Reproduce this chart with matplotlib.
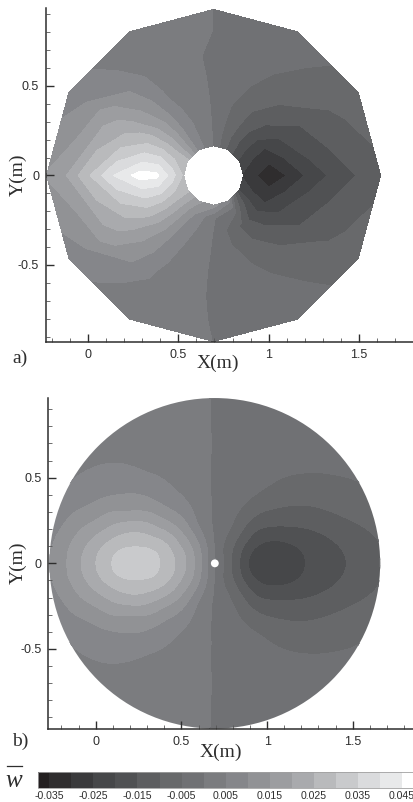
import numpy as np
import matplotlib
matplotlib.use("Agg")
import matplotlib.pyplot as plt
from matplotlib.colors import BoundaryNorm, ListedColormap
from matplotlib.cm import ScalarMappable
from matplotlib.lines import Line2D
from matplotlib.patches import Circle
from matplotlib.ticker import MultipleLocator, FixedLocator
from matplotlib.tri import Triangulation, UniformTriRefiner

# contour levels and grey colours
LEVELS = [-0.0375, -0.035, -0.03, -0.025, -0.02, -0.015, -0.01, -0.005, 0.0,
          0.005, 0.01, 0.015, 0.02, 0.025, 0.03, 0.035, 0.04, 0.045, 0.0475]
GREYS = ["#231f20", "#2f2d2e", "#3a3a3c", "#464749", "#505153", "#5d5e60",
         "#68696b", "#707174", "#7b7c7f", "#85868a", "#919295", "#9c9da0",
         "#a9aaad", "#b9babc", "#c9cacc", "#dadbdd", "#e8e9ea", "#ffffff"]
BAR_TICKS = [-0.035, -0.025, -0.015, -0.005, 0.005, 0.015, 0.025, 0.035, 0.045]
BAR_LABELS = ["-0.035", "-0.025", "-0.015", "-0.005", "0.005", "0.015", "0.025", "0.035", "0.045"]

# panel a: coarse polar mesh around the hub
A_CENTER = 0.695
A_RADII = [0.167, 0.241, 0.324, 0.417, 0.556, 0.685, 0.815, 0.926]
A_ANGLES = [0, 30, 60, 90, 120, 150, 180, 210, 240, 270, 300, 330, 360]
A_W0 = [-0.026, -0.030, -0.034, -0.0295, -0.0225, -0.0182, -0.0142, -0.0115]
A_W30 = [-0.021, -0.0235, -0.0245, -0.020, -0.015, -0.0108, -0.0088, -0.0075]
A_W60 = [-0.012, -0.0125, -0.011, -0.0098, -0.0065, -0.0045, -0.003, -0.002]
A_W90 = [-0.0005, -0.0006, -0.0007, -0.0007, -0.0007, -0.0006, -0.00002, -0.00002]
A_W120 = [0.008, 0.0075, 0.0072, 0.006, 0.0042, 0.0025, 0.0015, 0.001]
A_W150 = [0.026, 0.027, 0.028, 0.027, 0.022, 0.0175, 0.010, 0.0075]
A_W180 = [0.029, 0.0385, 0.047, 0.047, 0.040, 0.030, 0.020, 0.0155]
A_W210 = [0.026, 0.027, 0.028, 0.027, 0.022, 0.0175, 0.010, 0.0075]
A_W240 = [0.016, 0.0115, 0.0085, 0.0068, 0.0055, 0.004, 0.0022, 0.001]
A_W270 = [0.012, 0.0004, -0.0003, -0.0006, -0.0008, -0.0006, -0.0002, -0.00002]
A_W300 = [0.006, -0.005, -0.0115, -0.0097, -0.0062, -0.0042, -0.0028, -0.002]
A_W330 = [-0.021, -0.0235, -0.0245, -0.020, -0.015, -0.0108, -0.0088, -0.0075]

# panel b: fine grid, upper half only (the field mirrors about y = 0)
B_CENTER = 0.695
B_RADIUS = 0.965
B_HOLE = 0.023
B_X = [-0.3, -0.2, -0.1, 0.0, 0.1, 0.2, 0.3, 0.4, 0.5, 0.6, 0.7,
       0.8, 0.9, 1.0, 1.1, 1.2, 1.3, 1.4, 1.5, 1.6, 1.7]
B_Y = [0.0, 0.1, 0.2, 0.3, 0.4, 0.5, 0.6, 0.7, 0.8, 0.9, 1.0]
B_Y0 = [.009, .0133, .019, .0249, .0303, .0338, .0331, .0286, .0222, .012, -.0005,
        -.0108, -.0207, -.0238, -.024, -.0208, -.0183, -.0164, -.0141, -.0115, -.009]
B_Y1 = [.0079, .0125, .0176, .0228, .0274, .0296, .0292, .0262, .0195, .0105, -.001,
        -.0097, -.0179, -.0215, -.0214, -.0194, -.0176, -.0155, -.0134, -.0113, -.0093]
B_Y2 = [.0067, .0102, .0143, .0178, .0214, .0234, .0226, .0192, .0139, .0058, -.001,
        -.0061, -.0126, -.0158, -.016, -.0155, -.0143, -.0127, -.0112, -.0097, -.0081]
B_Y3 = [.0051, .0077, .0104, .0126, .015, .0153, .015, .012, .0085, .0031, -.0008,
        -.0038, -.0079, -.0105, -.0113, -.0113, -.0108, -.0098, -.0087, -.0076, -.0065]
B_Y4 = [.0035, .0055, .0071, .0087, .0098, .0102, .0094, .0072, .0049, .0019, -.00057,
        -.0024, -.0044, -.0063, -.0076, -.0083, -.0079, -.0072, -.0063, -.0056, -.0051]
B_Y5 = [.0022, .0038, .0052, .0064, .0071, .0067, .0058, .0047, .0032, .0013, -.00043,
        -.0016, -.0028, -.0041, -.0051, -.0056, -.0056, -.0053, -.0049, -.0044, -.004]
B_Y6 = [.0014, .0024, .0034, .0042, .0046, .0044, .0038, .0031, .0021, .0009, -.00033,
        -.0012, -.002, -.0027, -.0033, -.0037, -.0038, -.0037, -.0035, -.0032, -.0029]
B_Y7 = [.0009, .0015, .0021, .0026, .0029, .0029, .0026, .0021, .0014, .0006, -.0002,
        -.0009, -.0014, -.0019, -.0023, -.0025, -.0026, -.0026, -.0025, -.0023, -.0021]
B_Y8 = [.0006, .001, .0014, .0018, .002, .002, .0018, .0015, .001, .0004, -.00015,
        -.0006, -.001, -.0013, -.0016, -.0018, -.0019, -.0019, -.0018, -.0017, -.0016]
B_Y9 = [.0004, .0006, .0009, .0011, .0013, .0013, .0012, .001, .0007, .0003, -.00012,
        -.0004, -.0007, -.0009, -.0011, -.0012, -.0013, -.0013, -.0012, -.0011, -.001]
B_Y10 = [.0002, .0004, .0005, .0006, .0007, .0007, .0007, .0006, .0004, .0002, -.0001,
         -.0002, -.0004, -.0005, -.0006, -.0007, -.0007, -.0007, -.0007, -.0006, -.0006]

W, H = 414, 802
INK = "#2e2e2e"
SANS = "Liberation Sans"
SERIF = "Liberation Serif"


def axes_px(fig, left, right, top, bottom):
    """Axes from pixel edges measured on the reference (y counted from the top)."""
    return fig.add_axes([left / W, 1 - bottom / H, (right - left) / W, (bottom - top) / H])


def label_px(fig, x, y, s, **kw):
    kw.setdefault("family", SERIF)
    kw.setdefault("size", 14)
    kw.setdefault("color", INK)
    return fig.text(x / W, 1 - y / H, s, ha="center", va="center", **kw)


def style_axes(ax, xlim, ylim):
    ax.set_xlim(*xlim)
    ax.set_ylim(*ylim)
    for side in ("top", "right"):
        ax.spines[side].set_visible(False)
    for side in ("left", "bottom"):
        ax.spines[side].set_linewidth(1.1)
        ax.spines[side].set_color(INK)
    ax.xaxis.set_major_locator(FixedLocator([0, 0.5, 1, 1.5]))
    ax.yaxis.set_major_locator(FixedLocator([-0.5, 0, 0.5]))
    ax.xaxis.set_minor_locator(MultipleLocator(0.1))
    ax.yaxis.set_minor_locator(MultipleLocator(0.1))
    ax.set_xticklabels(["0", "0.5", "1", "1.5"])
    ax.set_yticklabels(["-0.5", "0", "0.5"])
    ax.tick_params(which="major", direction="in", length=5.8, width=1.0, color=INK,
                   labelsize=9, labelcolor=INK, labelfontfamily=SANS, pad=5)
    ax.tick_params(which="minor", direction="in", length=2.9, width=0.6, color="#555555")
    ax.patch.set_alpha(0)


def tidy(cs):
    cs.set_edgecolor("face")   # hides the hairlines between bands
    cs.set_linewidth(0.2)
    return cs


cmap = ListedColormap(GREYS)
norm = BoundaryNorm(LEVELS, cmap.N)

fig = plt.figure(figsize=(W / 100, H / 100), dpi=100)

# panel a
ax_a = axes_px(fig, 46, 412.7, 8, 342)
wa = np.array([A_W0, A_W30, A_W60, A_W90, A_W120, A_W150, A_W180, A_W210,
               A_W240, A_W270, A_W300, A_W330, A_W0])
tt, rr = np.meshgrid(np.radians(A_ANGLES), A_RADII, indexing="ij")
tidy(ax_a.contourf(A_CENTER + rr * np.cos(tt), rr * np.sin(tt), wa,
                   levels=LEVELS, cmap=cmap, norm=norm))
style_axes(ax_a, (-0.235, 1.80), (-0.93, 0.935))

# panel b, smoothed by matplotlib's own triangular refiner
ax_b = axes_px(fig, 48.3, 412.7, 397.7, 729.3)
half = np.array([B_Y0, B_Y1, B_Y2, B_Y3, B_Y4, B_Y5, B_Y6, B_Y7, B_Y8, B_Y9, B_Y10])
wb = np.vstack([half[:0:-1], half])
yb = np.concatenate([-np.array(B_Y[:0:-1]), B_Y])
xx, yy = np.meshgrid(B_X, yb)
tri = Triangulation(xx.ravel(), yy.ravel())
tri_fine, wb_fine = UniformTriRefiner(tri).refine_field(wb.ravel(), subdiv=3)
cs_b = tidy(ax_b.tricontourf(tri_fine, wb_fine, levels=LEVELS, cmap=cmap, norm=norm))
cs_b.set_clip_path(Circle((B_CENTER, 0), B_RADIUS, transform=ax_b.transData))
ax_b.add_patch(Circle((B_CENTER, 0), B_HOLE, fc="white", ec="none", zorder=3))
style_axes(ax_b, (-0.277, 1.85), (-0.969, 0.967))

# colour bar
cax = axes_px(fig, 38.3, 413, 772, 788)
cb = fig.colorbar(ScalarMappable(norm=norm, cmap=cmap), cax=cax, orientation="horizontal",
                  spacing="proportional", ticks=BAR_TICKS)
cb.ax.set_xticklabels(BAR_LABELS)
cb.ax.tick_params(length=0, pad=2.5, labelsize=7.6, labelcolor=INK, labelfontfamily=SANS)
cb.ax.minorticks_off()
cb.outline.set_linewidth(0.6)
cb.outline.set_edgecolor("#a0a0a0")

# hand placed labels
label_px(fig, 218, 363, "X(m)")
label_px(fig, 18, 175, "Y(m)", rotation=90)
label_px(fig, 20, 358, "a)")
label_px(fig, 221, 752, "X(m)")
label_px(fig, 18, 563, "Y(m)", rotation=90)
label_px(fig, 20, 741, "b)")
label_px(fig, 14, 781, "w", style="italic", size=18)
fig.add_artist(Line2D([7 / W, 22 / W], [1 - 765.5 / H] * 2, color=INK, lw=0.9))

fig.savefig("out.png", dpi=100)
